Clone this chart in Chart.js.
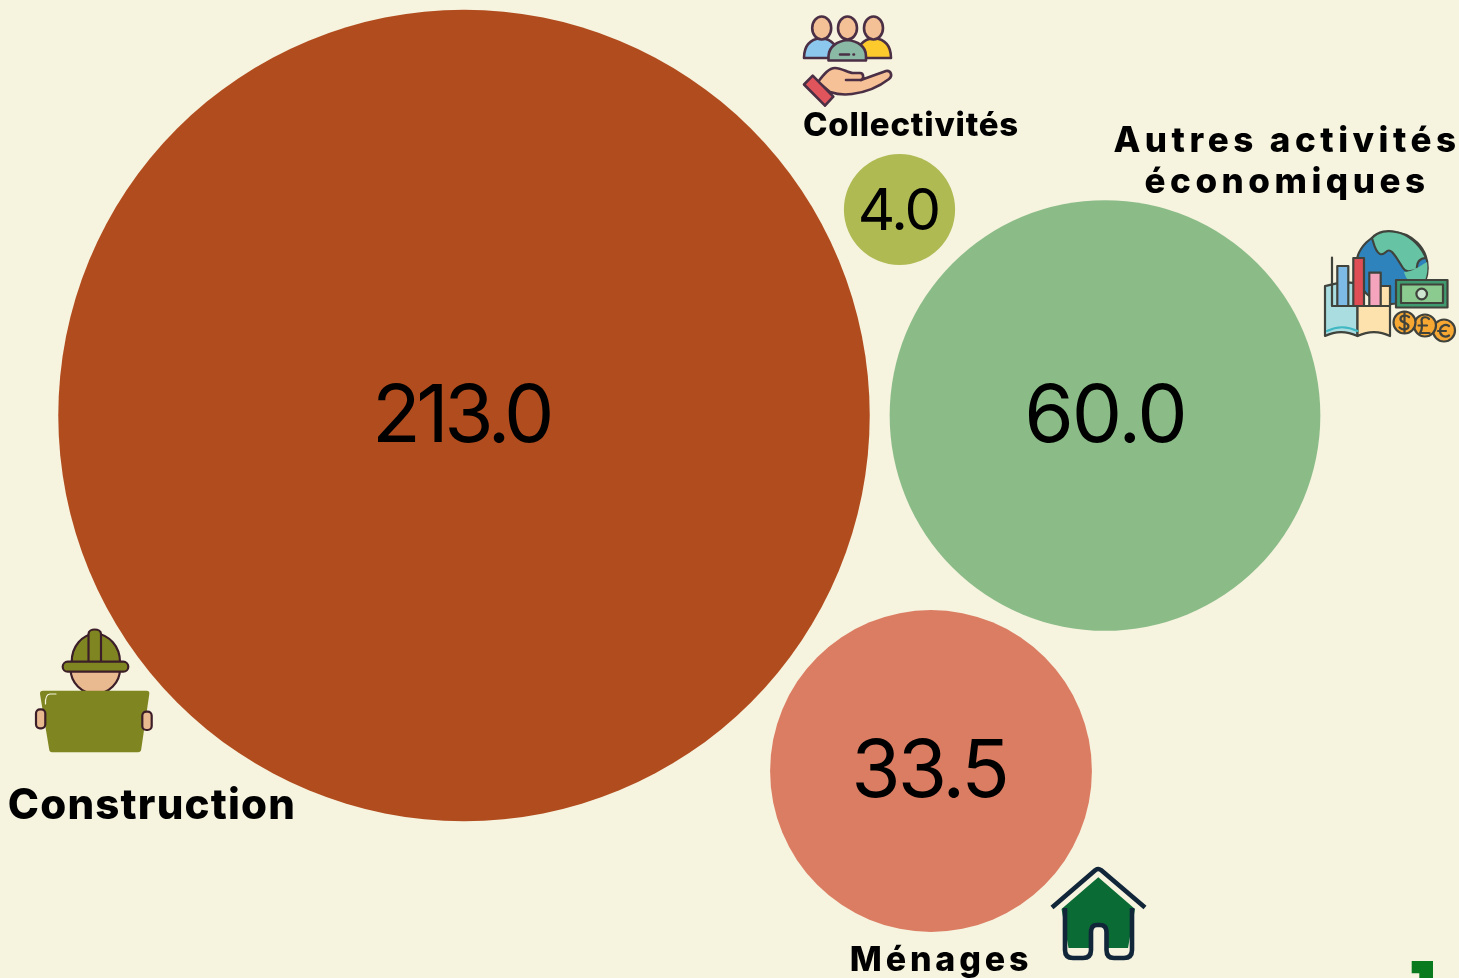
<!DOCTYPE html>
<html>
<head>
<meta charset="utf-8">
<title>Bubbles</title>
<script src="https://cdn.jsdelivr.net/npm/chart.js@4"></script>
<style>
  html, body { margin: 0; padding: 0; background: #f6f3df; overflow: hidden; }
  #wrap { position: relative; width: 1459px; height: 978px; }
  canvas, #icons { position: absolute; left: 0; top: 0; }
</style>
</head>
<body>
<div id="wrap">
<canvas id="bubbles" width="1459" height="978"></canvas>
<svg id="icons" width="1459" height="978" viewBox="0 0 1459 978" stroke-linejoin="round" stroke-linecap="round">
  <!-- collectivites -->
  <g stroke="#4a2f45" stroke-width="2.6">
    <path d="M804 58 C804 44 812 39 821 38 C830 39 838 44 838 58 Z" fill="#8cc8ee"/>
    <path d="M857 58 C857 44 865 39 874 38 C883 39 891 44 891 58 Z" fill="#fdca2e"/>
    <ellipse cx="821.7" cy="28" rx="9.500" ry="11.500" fill="#f4c197"/>
    <ellipse cx="873.5" cy="28" rx="9.500" ry="11.500" fill="#f4c197"/>
    <ellipse cx="847.5" cy="28" rx="9.500" ry="11.500" fill="#f4c197"/>
    <path d="M828.5 60.5 L828.5 56 C829 46 838 41 847.5 40 C857 41 866 46 866 56 L866 60.5 Z" fill="#8ab9a6"/>
    <path d="M840 54.5 H849 M853.5 54.5 H854" fill="none"/>
    <path d="M818 82 C824 74 829 68 835 68 C842 68 848 73 853 73 L860 73 C864 73 864 79 861 80 L872 76 L886 71 C891 70 893 76 889 79 C880 86 868 92 852 94 C844 95 836 94 830 92 Z" fill="#f6c196"/>
    <path d="M846 80 H861" fill="none"/>
    <path d="M804 84.5 L812.7 75.7 L833.3 96.7 L825 105.7 Z" fill="#e0545c"/>
  </g>
  <!-- autres activites -->
  <g stroke="#40423c" stroke-width="2.2">
    <circle cx="1391.7" cy="268" r="36" fill="#2f83bd"/>
    <path d="M1372 238 C1378 231 1388 230 1396 232 C1408 234 1420 244 1426 258 C1420 258 1416 262 1417 270 C1410 271 1406 273 1403 268 C1399 262 1396 256 1392 252 C1386 247 1386 256 1380 254 C1375 252 1374 244 1372 238 Z" fill="#66c3a4"/>
    <path d="M1404 272 C1412 272 1420 266 1427 262 C1429 274 1424 286 1418 292 C1412 284 1406 280 1404 272 Z" fill="#66c3a4" stroke="none"/>
    <path d="M1357.5 284 C1347 280 1335 284 1325 286 V336 C1335 331 1347 331 1357.5 336 Z" fill="#a9dde0"/>
    <path d="M1357.5 306 V336 C1368 331 1380 331 1390 336 V286 L1380 286 V306 Z" fill="#fde2ae"/>
    <path d="M1380 286 L1390 286 V306 H1380 Z" fill="#fde2ae"/>
    <path d="M1327 331 C1337 326 1347 326 1357.5 331" fill="none" stroke="#40b8c4" stroke-width="2"/>
    <rect x="1337.3" y="266" width="11" height="40" fill="#7dbbe6"/>
    <rect x="1353.3" y="258" width="10.7" height="48" fill="#de4e54"/>
    <rect x="1369.3" y="272.7" width="11.4" height="33.3" fill="#f4a4bd"/>
    <path d="M1332 257.5 V306 H1385" fill="none"/>
    <rect x="1396" y="280" width="51.5" height="27.5" fill="#3f9a6f"/>
    <rect x="1401" y="284.5" width="42" height="18.5" fill="#8ccb8f"/>
    <circle cx="1421.7" cy="294" r="5.3" fill="#cfe7d0"/>
    <g fill="#f7a833">
      <circle cx="1444" cy="330.5" r="11"/>
      <circle cx="1425" cy="325.5" r="11"/>
      <circle cx="1404.5" cy="322.5" r="11"/>
    </g>
    <path d="M1409 317 C1405 314 1400 316 1400.5 319.5 C1401 323 1408 322 1408.5 326 C1408.5 329.5 1403 331 1399.5 327.5 M1404.5 312 V333" fill="none"/>
    <path d="M1429.5 333 H1420 C1423 329 1422 324 1421.5 320 C1422 316.5 1427 316.5 1429 319 M1418.5 325.5 H1427" fill="none"/>
    <path d="M1449 326 C1445 323.5 1440 326 1440 331 C1440 336 1445 338 1449 335.5 M1438 331 H1446" fill="none"/>
  </g>
  <!-- construction -->
  <g stroke="#3c1e28" stroke-width="2.2">
    <circle cx="95.3" cy="669" r="24.7" fill="#e9b990"/>
    <path d="M71.7 662 C71.7 646 82 635 95.5 633 C109 635 120 646 120 662 Z" fill="#7f8621"/>
    <path d="M88.5 662 V634 C88.5 628 101 628 101 634 V662" fill="#7f8621"/>
    <rect x="62.7" y="661.7" width="65.6" height="10" rx="5" fill="#7f8621"/>
  </g>
  <path d="M43 690.7 H146.5 Q149.7 690.7 149.3 694 L141.2 749.5 Q140.8 752.3 138 752.3 H52 Q49.5 752.3 49.2 749.5 L40 694 Q39.8 690.7 43 690.7 Z" fill="#7f8621"/>
  <g stroke="#3c1e28" stroke-width="2.2" fill="#e9b990">
    <rect x="36" y="709.3" width="9.3" height="19" rx="4"/>
    <rect x="142.3" y="711.7" width="9.4" height="18.3" rx="4"/>
  </g>
  <path d="M45.5 704 Q45 694.5 50 694 H56" fill="none" stroke="#f6f3df" stroke-width="1.2"/>
  <!-- menages -->
  <path d="M1061.5 909 L1098.3 877.3 L1135 909 L1128 948 H1108 V931 Q1108 925 1102 925 H1095 Q1089 925 1089 931 V948 H1068.5 Z" fill="#0b6b35"/>
  <g fill="none" stroke="#12263a" stroke-width="4.6">
    <path d="M1052 907.5 L1095.5 870 Q1098.3 868 1101 870 L1145 907.5" stroke-linecap="butt"/>
    <path d="M1065 908 V950 Q1065 958 1073 958 H1083 Q1091 958 1091 950 V932 Q1091 925 1097 925 H1100 Q1106.500 925 1106.500 932 V950 Q1106.500 958 1114 958 H1124 Q1132 958 1132 950 V908" stroke-linecap="butt"/>
  </g>
  <path d="M1411.700 961 H1433 V978 H1419.300 V973.300 H1411.700 Z" fill="#0a7a1e"/>
</svg>
</div>
<script>
const categories = ["Construction", "Autres activités économiques", "Ménages", "Collectivités"];
const values = [213.0, 60.0, 33.5, 4.0];
const xAxisVals = [464, 1105, 931, 899.5];
const yAxisVals = [415.5, 415.5, 771, 209.5];

const bubbleColors = ["#b14c1e", "#8bbc88", "#db7d63", "#afba52"];
const radiusPerRootValue = 27.8;
const fontFamily = "Inter, 'Noto Sans', sans-serif";

// value text inside the bubbles
const valueStyle = [
   {size: 80, spacing: -4.5, dx: -3, dy: 26},
   {size: 80, spacing: -2, dx: 0, dy: 26},
   {size: 80, spacing: -3, dx: -2, dy: 25.5},
   {size: 58, spacing: -2, dx: -1, dy: 20.5},
];

// names, split on lines like the original
const labelStyle = [
   {lines: ["Construction"], x: 152, y: [819], size: 42, weight: 800, spacing: 1.2},
   {lines: ["Autres activités", "économiques"], x: 1287, y: [152, 193], size: 35, weight: 800, spacing: 4.5},
   {lines: ["Ménages"], x: 941, y: [971], size: 34, weight: 800, spacing: 3.8},
   {lines: ["Collectivités"], x: 911, y: [136], size: 33, weight: 800, spacing: 0.8},
];

const textPlugin = {
   id: "bubbleText",
   afterDatasetsDraw(chart) {
      const ctx = chart.ctx;
      const pts = chart.getDatasetMeta(0).data;
      ctx.save();
      ctx.fillStyle = "#000";
      ctx.textAlign = "center";
      ctx.textBaseline = "alphabetic";
      values.forEach((v, i) => {
         const st = valueStyle[i];
         ctx.font = `400 ${st.size}px ${fontFamily}`;
         ctx.letterSpacing = st.spacing + "px";
         ctx.fillText(v.toFixed(1), pts[i].x + st.dx, pts[i].y + st.dy);
      });
      labelStyle.forEach((st) => {
         ctx.font = `${st.weight} ${st.size}px ${fontFamily}`;
         ctx.letterSpacing = st.spacing + "px";
         st.lines.forEach((line, j) => ctx.fillText(line, st.x, st.y[j]));
      });
      ctx.restore();
   },
};

new Chart(document.getElementById("bubbles"), {
   type: "bubble",
   data: {
      labels: categories,
      datasets: [
         {
            label: "Valeur",
            data: values.map((v, i) => ({
               x: xAxisVals[i],
               y: yAxisVals[i],
               r: Math.sqrt(v) * radiusPerRootValue,
            })),
            backgroundColor: bubbleColors,
            borderWidth: 0,
            hoverBorderWidth: 0,
            clip: false,
         },
      ],
   },
   options: {
      responsive: false,
      animation: false,
      events: [],
      layout: {padding: 0, autoPadding: false},
      scales: {
         x: {display: false, min: 0, max: 1459},
         y: {display: false, min: 0, max: 978, reverse: true},
      },
      plugins: {
         legend: {display: false},
         tooltip: {enabled: false},
      },
   },
   plugins: [textPlugin],
});
</script>
</body>
</html>
